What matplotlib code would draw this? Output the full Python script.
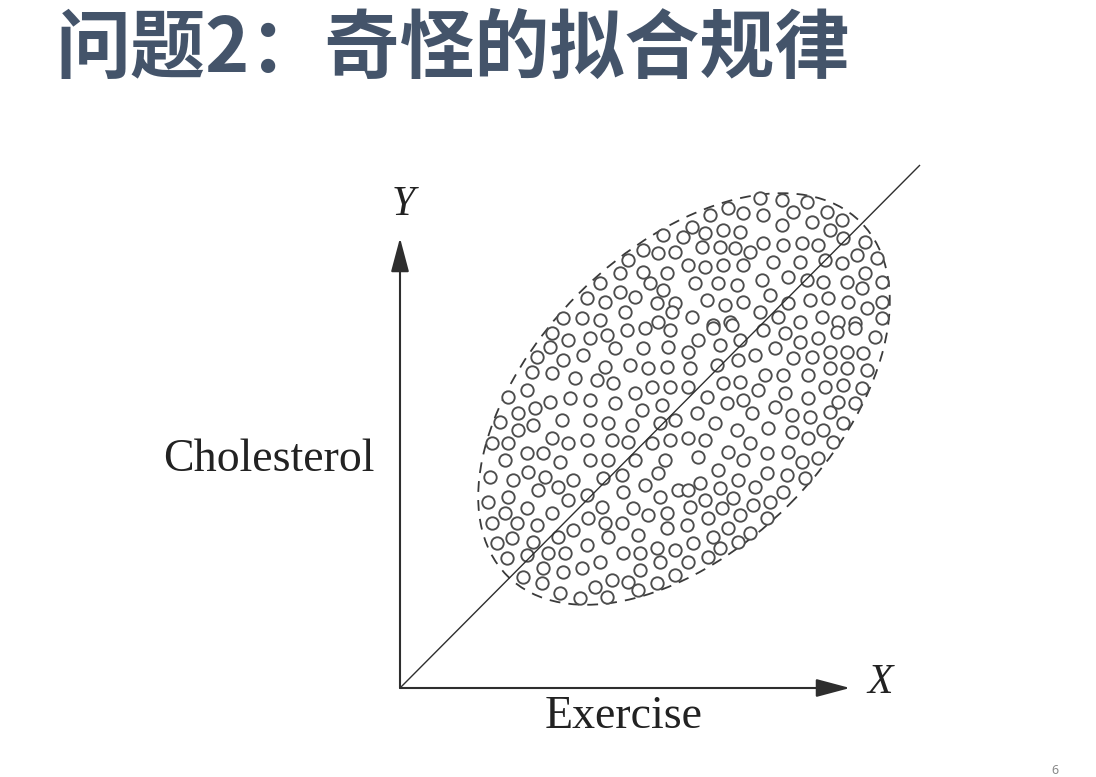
import matplotlib
matplotlib.use("Agg")
import matplotlib.pyplot as plt
from matplotlib.patches import Ellipse

# ---- data (Exercise = x, Cholesterol = y; arbitrary units, origin at axes corner)
exercise = [
    263, 243, 258, 275, 228, 220, 243, 267, 200, 250, 220, 235, 263, 187, 205, 257, 275, 225, 272, 163, 182, 200, 258,
    310, 328, 343, 360, 363, 382, 393, 407, 412, 427, 442, 292, 305, 323, 340, 382, 430, 443, 465, 302, 320, 335, 350,
    363, 383, 402, 418, 457, 477, 288, 305, 323, 343, 373, 400, 425, 442, 465, 295, 318, 337, 362, 388, 407, 423, 447,
    462, 482, 307, 325, 343, 370, 388, 410, 428, 448, 467, 482, 292, 313, 330, 360, 378, 400, 422, 438, 455, 482,
    152, 168, 190, 207, 227, 245, 270, 150, 183, 215, 243, 268, 137, 163, 205, 230, 248, 267, 132, 152, 175, 197, 213,
    235, 252, 270, 127, 150, 170, 190, 215, 242, 262, 108, 118, 135, 162, 190, 208, 232, 260, 275, 100, 118, 133, 152,
    168, 187, 212, 228, 252, 270, 92, 108, 127, 143, 105, 160, 190, 208, 235, 265,
    313, 332, 298, 320, 340, 363, 385, 400, 418, 437, 455, 475, 288, 338, 355, 375, 393, 412, 430, 447, 463, 290, 317,
    365, 383, 408, 430, 447, 467, 288, 323, 340, 358, 385, 425, 443, 462, 307, 327, 343, 375, 408, 438, 455, 297, 352,
    392, 410, 430, 315, 337, 368, 392, 408, 423, 443, 288, 305, 350, 433, 328, 367, 388, 418, 298, 343, 402,
    90, 113, 128, 145, 158, 173, 203, 222, 245, 258, 278, 88, 108, 138, 168, 187, 223, 260, 105, 127, 152, 202, 233,
    248, 267, 92, 117, 137, 173, 188, 205, 222, 267, 97, 112, 133, 158, 187, 208, 238, 107, 127, 148, 165, 223, 240,
    257, 275, 123, 143, 163, 182, 200, 240, 260, 275, 142, 195, 212, 228, 257, 160, 180, 207, 238,
    318, 367, 387, 405, 300, 338, 320, 355, 383, 288, 305, 333, 353, 370, 290, 322, 308, 340, 367, 287, 328, 350, 313,
    338, 293, 320, 308, 288, 283,
]
cholesterol = [
    453, 438, 435, 436, 428, 415, 416, 415, 405, 405, 396, 391, 398, 390, 386, 385, 385, 376, 376, 370, 370, 368, 366,
    473, 480, 475, 490, 473, 488, 476, 486, 466, 476, 468, 461, 455, 458, 456, 463, 458, 450, 446, 441, 441, 440, 436,
    445, 443, 445, 443, 433, 430, 423, 421, 423, 423, 426, 426, 428, 425, 415, 405, 405, 403, 408, 411, 408, 406, 406,
    400, 406, 388, 383, 386, 393, 385, 388, 390, 386, 380, 386, 371, 363, 366, 376, 371, 366, 371, 366, 365, 370,
    355, 348, 350, 353, 358, 360, 358, 341, 333, 340, 340, 341, 331, 328, 321, 323, 320, 321, 316, 315, 310, 308, 305,
    295, 301, 301, 298, 286, 290, 288, 285, 278, 283, 291, 275, 280, 268, 268, 265, 263, 265, 268, 266, 258, 263, 250,
    245, 248, 248, 246, 245, 248, 245, 245, 235, 235, 228, 226, 228, 228, 228, 228,
    360, 363, 348, 343, 348, 358, 355, 346, 350, 356, 360, 351, 336, 328, 333, 340, 330, 331, 336, 336, 335, 320, 323,
    313, 313, 313, 320, 320, 318, 301, 305, 306, 298, 295, 301, 303, 300, 291, 285, 288, 281, 290, 286, 285, 275, 275,
    273, 271, 276, 265, 258, 260, 256, 250, 258, 265, 250, 248, 245, 246, 236, 235, 236, 230, 231, 228, 226,
    211, 208, 216, 211, 201, 208, 210, 213, 203, 215, 198, 186, 191, 198, 188, 193, 196, 191, 175, 180, 175, 181, 180,
    173, 175, 165, 165, 163, 158, 170, 165, 165, 160, 145, 150, 146, 151, 143, 151, 153, 130, 133, 135, 135, 135, 135,
    140, 138, 111, 120, 116, 120, 126, 118, 126, 113, 105, 101, 108, 106, 105, 95, 90, 91, 98,
    218, 215, 213, 210, 205, 208, 200, 201, 196, 198, 188, 190, 183, 186, 181, 180, 170, 173, 170, 163, 160, 155, 151,
    146, 145, 140, 131, 126, 451,
]

# fitted line (two end points of the straight trend line)
fit_x = [0, 520]
fit_y = [0, 523]

# dashed envelope ellipse: centre, full width, full height, tilt (deg)
env_center = (284, 289)
env_width = 500
env_height = 298
env_angle = 45

# axis extents
x_axis_len = 450
y_axis_len = 450

title = "问题2：奇怪的拟合规律"
x_label = "Exercise"
y_label = "Cholesterol"

# ---- figure
fig = plt.figure(figsize=(10.96, 7.77), dpi=100)
fig.patch.set_facecolor("white")
ax = fig.add_axes([0, 0, 1, 1])
ax.set_xlim(-400, 696)
ax.set_ylim(-89, 688)
ax.axis("off")

ink = "#2e2e2e"

# envelope
ell = Ellipse(env_center, env_width, env_height, angle=env_angle, fill=False,
              edgecolor="#3a3a3a", linewidth=1.3, linestyle=(0, (6, 4.5)), zorder=2)
ax.add_patch(ell)

# points
ax.scatter(exercise, cholesterol, s=80, facecolors="white", edgecolors="#4d4d4d",
           linewidths=1.35, zorder=3)

# fitted line
ax.plot(fit_x, fit_y, color=ink, linewidth=1.0, zorder=4, solid_capstyle="butt")

# axes arrows
arrow_kw = dict(arrowstyle="-|>,head_length=1.5,head_width=0.4", color=ink,
                lw=1.5, shrinkA=0, shrinkB=0, mutation_scale=14)
ax.annotate("", xy=(x_axis_len, 0), xytext=(0, 0), arrowprops=arrow_kw, zorder=5)
ax.annotate("", xy=(0, y_axis_len), xytext=(0, 0), arrowprops=arrow_kw, zorder=5)

serif = ["Liberation Serif", "DejaVu Serif"]
ax.text(x_axis_len + 30, 5, "X", fontsize=30, fontstyle="italic", family=serif,
        ha="center", va="center", color="#222")
ax.text(3, y_axis_len + 33, "Y", fontsize=30, fontstyle="italic", family=serif,
        ha="center", va="center", color="#222")
ax.text(224, -29, x_label, fontsize=33, family=serif, ha="center", va="center", color="#222")
ax.text(-131, 228, y_label, fontsize=33, family=serif, ha="center", va="center", color="#222")

# title & page number
fig.text(55 / 1096, 1 - 50 / 777, title, fontsize=54, fontweight="bold",
         family=["Noto Sans CJK SC", "DejaVu Sans"], color="#44546A",
         ha="left", va="center")
fig.text(1055 / 1096, 1 - 770 / 777, "6", fontsize=9, color="#888888",
         ha="center", va="center", family=["Noto Sans", "DejaVu Sans"])

fig.savefig("out.png", dpi=100, facecolor="white")
